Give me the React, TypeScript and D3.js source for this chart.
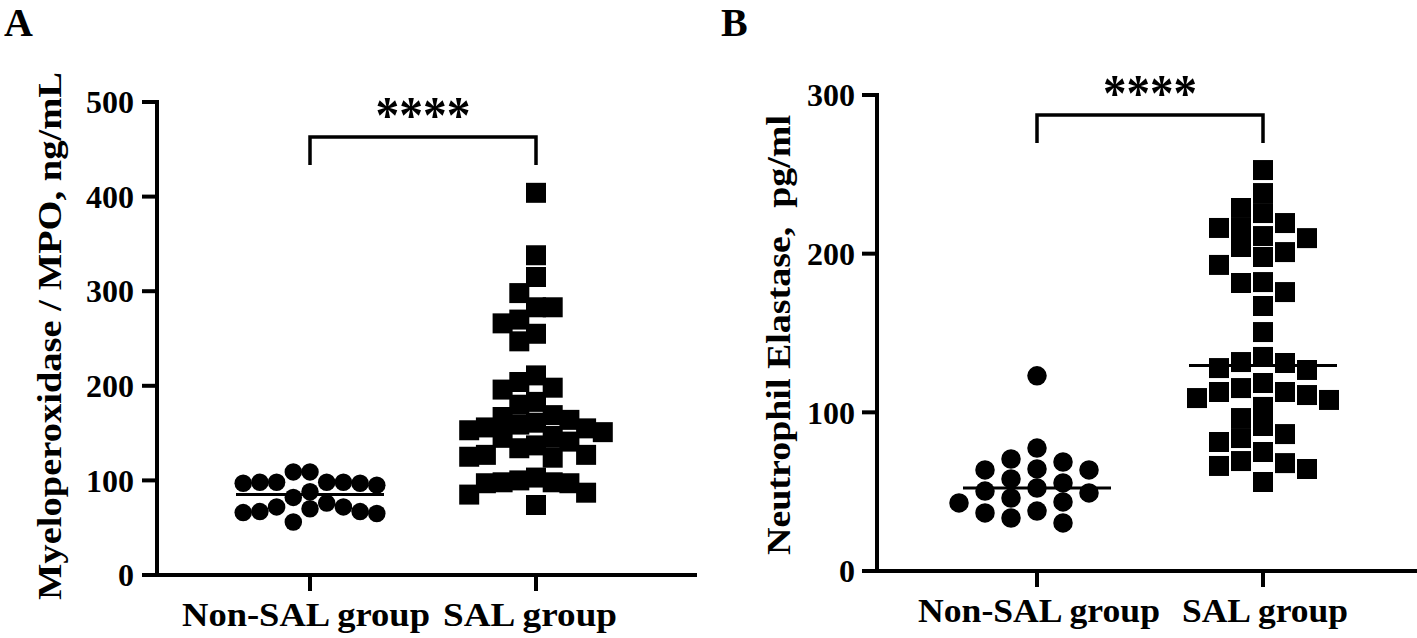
import React from 'react';
import * as d3 from 'd3';

// ---------- data ----------
const categories = ['Non-SAL group', 'SAL group'];

// Panel A: Myeloperoxidase (ng/mL)
const mpoNonSAL = [109, 109, 97, 98, 95, 98, 97, 98, 98, 82, 88, 67, 72, 67, 70, 72, 76, 56, 66, 65];
const mpoSAL = [
  404, 338, 315, 298, 283, 283, 266, 270, 255, 247,
  211, 204, 198, 196, 180, 183,
  164, 156, 161, 155, 151, 153, 159, 169, 167,
  145, 145, 125, 127, 124, 127, 134, 137, 141,
  98, 85, 97, 87, 97, 74, 98, 100, 103,
];
const mpoTicks = [0, 100, 200, 300, 400, 500];
const mpoLabel = 'Myeloperoxidase / MPO, ng/mL';

// Panel B: Neutrophil elastase (pg/ml)
const neNonSAL = [123, 77.5, 68.7, 64.3, 63.7, 63.7, 70.6, 55.5, 52.3, 50.4, 46, 49.2, 58, 42.9, 37.8, 33.4, 36.6, 43.5, 30.3];
const neSAL = [
  252.7, 238.2, 225.6, 216.2, 228.8, 216.2, 219.3, 211.1, 209.8, 204.2,
  192.9, 197.9, 201, 181.5, 182.1, 175.8, 167, 150.6, 134.9, 131.1,
  131.7, 126.7, 127.9, 118.5, 109, 112.8, 107.8, 115.3, 103.4, 110.9,
  112.8, 96.4, 83.8, 91.4, 86.3, 81.3, 75, 68, 56.1, 66.2, 64.3, 69.3,
];
const neTicks = [0, 100, 200, 300];
const neLabel = 'Neutrophil Elastase,  pg/ml';

const significance = '****';

// ---------- layout helpers ----------
type Placed = { v: number; dx: number };

function swarm(values: number[], y: (v: number) => number, step: number, size: number): Placed[] {
  const sorted = values.slice().sort((a, b) => b - a);
  const cols = new Map<number, number[]>();
  const out: Placed[] = [];
  for (const v of sorted) {
    const py = y(v);
    for (let k = 0; k < 40; k++) {
      const c = k === 0 ? 0 : k % 2 === 1 ? -Math.ceil(k / 2) : Math.ceil(k / 2);
      const list = cols.get(c) || [];
      if (list.every((q) => Math.abs(q - py) >= size * 0.95)) {
        list.push(py);
        cols.set(c, list);
        out.push({ v, dx: c * step });
        break;
      }
    }
  }
  return out;
}

const FONT = '"Liberation Serif", "Times New Roman", serif';

type PanelProps = {
  letter: string;
  letterX: number;
  axisX: number;
  xEnd: number;
  yZero: number;
  yTop: number;
  domainMax: number;
  ticks: number[];
  catRange: [number, number];
  groups: number[][];
  steps: number[];
  sizes: number[];
  shapes: ('circle' | 'square')[];
  label: string;
  labelX: number;
  labelCenterY: number;
  labelLen: number;
  tickLabelEnd: number;
  bracketY: number;
  legBottom: number;
  starBaseline: number;
  starLen: number;
  catBaseline: number;
  catCenters: number[];
  catLens: number[];
};

function Panel(p: PanelProps) {
  const y = d3.scaleLinear().domain([0, p.domainMax]).range([p.yZero, p.yTop]);
  const x = d3.scalePoint<string>().domain(categories).range(p.catRange);
  const sw = 4;
  const medHalf = 74;
  return (
    <g>
      <text x={p.letterX} y={36} fontFamily={FONT} fontWeight="bold" fontSize={40}>
        {p.letter}
      </text>
      {/* y axis */}
      <line x1={p.axisX} x2={p.axisX} y1={p.yTop - sw / 2} y2={p.yZero} stroke="#000" strokeWidth={sw} />
      {p.ticks.map((t) => (
        <g key={t}>
          <line x1={p.axisX - 15} x2={p.axisX} y1={y(t)} y2={y(t)} stroke="#000" strokeWidth={sw} />
          <text
            x={p.tickLabelEnd}
            y={y(t)}
            dy="0.35em"
            textAnchor="end"
            fontFamily={FONT}
            fontWeight="bold"
            fontSize={32}
          >
            {t}
          </text>
        </g>
      ))}
      {/* x axis */}
      <line x1={p.axisX - sw / 2} x2={p.xEnd} y1={p.yZero} y2={p.yZero} stroke="#000" strokeWidth={sw} />
      {categories.map((c, i) => (
        <g key={c}>
          <line x1={x(c)!} x2={x(c)!} y1={p.yZero} y2={p.yZero + 16} stroke="#000" strokeWidth={sw} />
          <text
            x={p.catCenters[i]}
            y={p.catBaseline}
            textAnchor="middle"
            fontFamily={FONT}
            fontWeight="bold"
            fontSize={34}
            textLength={p.catLens[i]}
            lengthAdjust="spacingAndGlyphs"
          >
            {c}
          </text>
        </g>
      ))}
      {/* y label */}
      <text
        transform={`translate(${p.labelX},${p.labelCenterY}) rotate(-90)`}
        textAnchor="middle"
        fontFamily={FONT}
        fontWeight="bold"
        fontSize={33}
        textLength={p.labelLen}
        lengthAdjust="spacingAndGlyphs"
        style={{ whiteSpace: 'pre' }}
      >
        {p.label}
      </text>
      {/* points */}
      {p.groups.map((vals, gi) => {
        const cx = x(categories[gi])!;
        const placed = swarm(vals, y, p.steps[gi], p.sizes[gi]);
        const sym =
          p.shapes[gi] === 'square'
            ? d3.symbol(d3.symbolSquare, p.sizes[gi] * p.sizes[gi])
            : d3.symbol(d3.symbolCircle, Math.PI * (p.sizes[gi] / 2) ** 2);
        const med = d3.median(vals)!;
        return (
          <g key={gi}>
            {placed.map((pt, i) => (
              <path key={i} d={sym()!} transform={`translate(${cx + pt.dx},${y(pt.v)})`} fill="#000" />
            ))}
            <line x1={cx - medHalf} x2={cx + medHalf} y1={y(med)} y2={y(med)} stroke="#000" strokeWidth={3} />
          </g>
        );
      })}
      {/* significance bracket */}
      <path
        d={`M${x(categories[0])},${p.legBottom}V${p.bracketY}H${x(categories[1])}V${p.legBottom}`}
        fill="none"
        stroke="#000"
        strokeWidth={3.5}
      />
      <text
        x={(x(categories[0])! + x(categories[1])!) / 2}
        y={p.starBaseline}
        textAnchor="middle"
        fontFamily={FONT}
        fontWeight="bold"
        fontSize={52}
        textLength={p.starLen}
        lengthAdjust="spacingAndGlyphs"
      >
        {significance}
      </text>
    </g>
  );
}

export default function App() {
  return (
    <svg
      width={1417}
      height={638}
      viewBox="0 0 1417 638"
      style={{ position: 'absolute', left: 0, top: 0, background: '#fff' }}
    >
      <rect width={1417} height={638} fill="#fff" />
      <Panel
        letter="A"
        letterX={4}
        axisX={157}
        xEnd={697}
        yZero={575}
        yTop={102}
        domainMax={500}
        ticks={mpoTicks}
        catRange={[310, 536]}
        groups={[mpoNonSAL, mpoSAL]}
        steps={[16.7, 16.7]}
        sizes={[17.5, 20]}
        shapes={['circle', 'square']}
        label={mpoLabel}
        labelX={61}
        labelCenterY={336}
        labelLen={528}
        tickLabelEnd={134}
        bracketY={137}
        legBottom={165}
        starBaseline={133}
        starLen={95}
        catBaseline={626}
        catCenters={[306, 530]}
        catLens={[248, 174]}
      />
      <Panel
        letter="B"
        letterX={721}
        axisX={877}
        xEnd={1417}
        yZero={571}
        yTop={95}
        domainMax={300}
        ticks={neTicks}
        catRange={[1037, 1263]}
        groups={[neNonSAL, neSAL]}
        steps={[26, 22]}
        sizes={[19.5, 20]}
        shapes={['circle', 'square']}
        label={neLabel}
        labelX={790}
        labelCenterY={335}
        labelLen={440}
        tickLabelEnd={855}
        bracketY={115}
        legBottom={143}
        starBaseline={111}
        starLen={94}
        catBaseline={622}
        catCenters={[1039, 1265]}
        catLens={[242, 166]}
      />
    </svg>
  );
}
